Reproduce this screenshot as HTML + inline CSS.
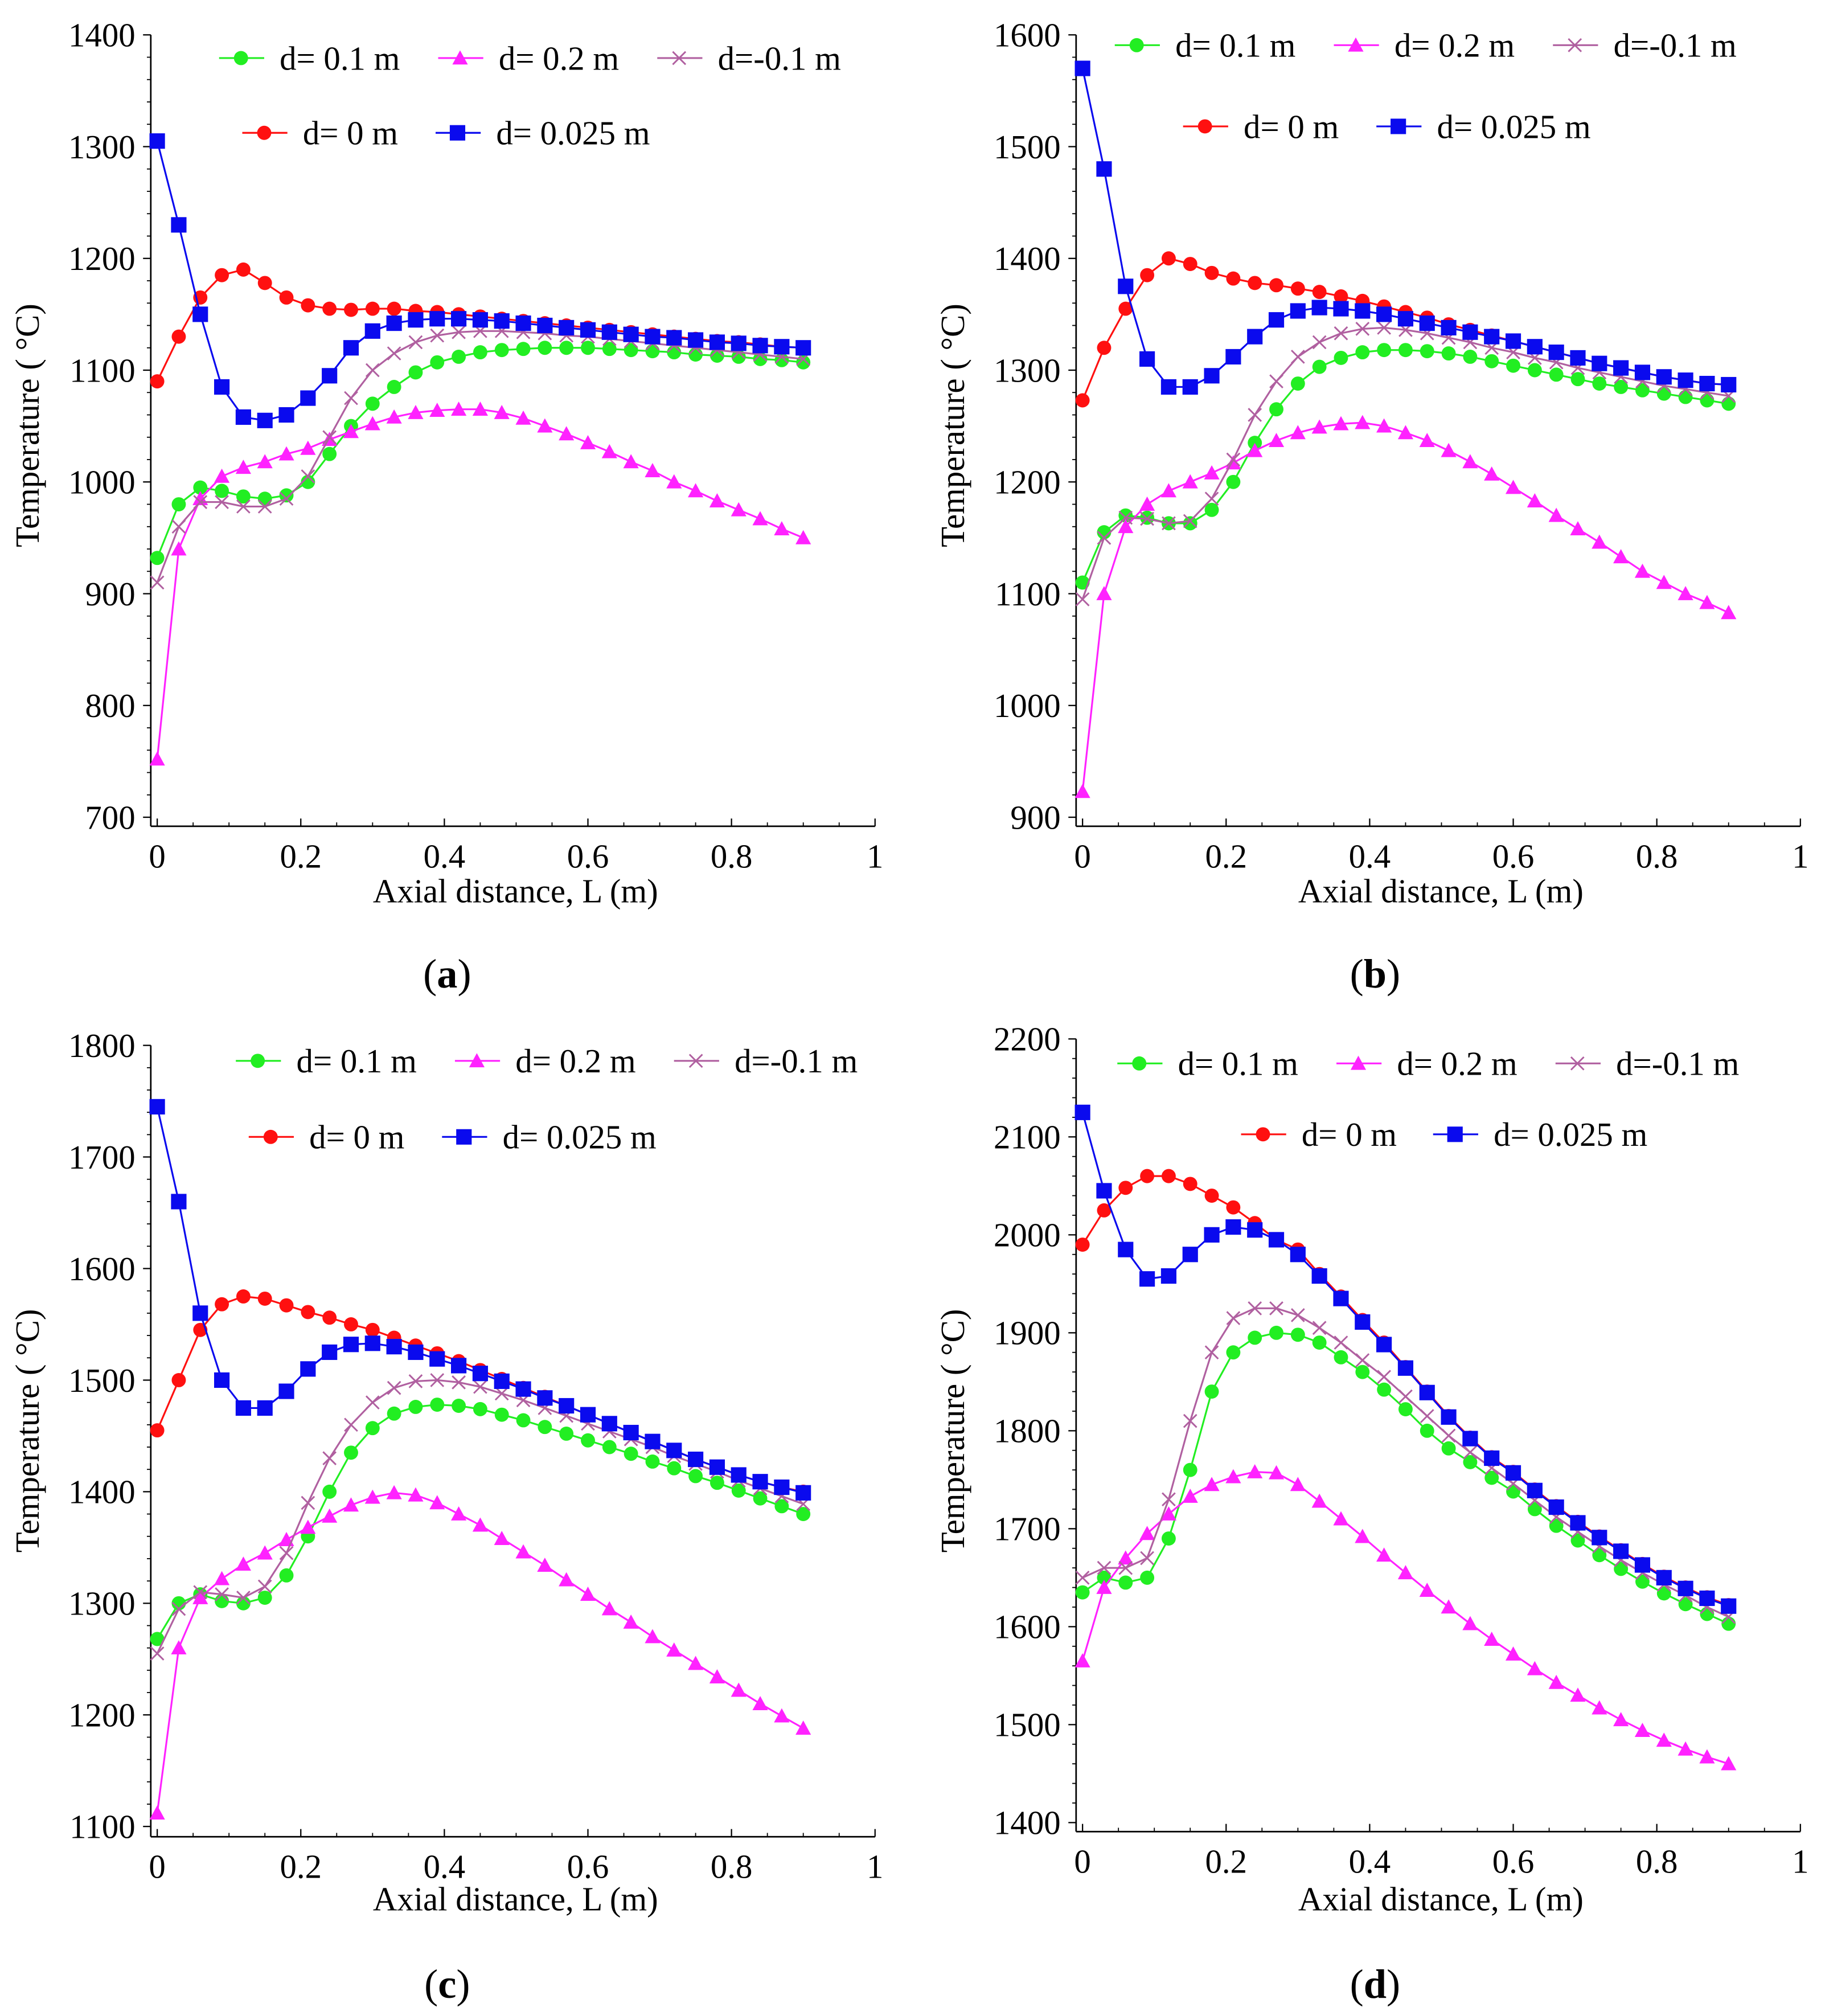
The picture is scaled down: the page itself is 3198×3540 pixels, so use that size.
<!DOCTYPE html>
<html><head><meta charset="utf-8"><style>
html,body{margin:0;padding:0;background:#fff;}
svg{display:block;font-family:"Liberation Serif","DejaVu Serif",serif;}
svg text{font-family:"Liberation Serif","DejaVu Serif",serif;fill:#000;}
</style></head><body>
<svg id="fig" width="3198" height="3540" viewBox="0 0 1413 1564" font-family="Liberation Serif, serif" xmlns="http://www.w3.org/2000/svg"></svg>
<script>
const xs = [0,0.03,0.06,0.09,0.12,0.15,0.18,0.21,0.24,0.27,0.30,0.33,0.36,0.39,0.42,0.45,0.48,0.51,0.54,0.57,0.60,0.63,0.66,0.69,0.72,0.75,0.78,0.81,0.84,0.87,0.90];
const seriesNames = ["d= 0.1 m","d= 0.2 m","d=-0.1 m","d= 0 m","d= 0.025 m"];
const xTicks = ["0","0.2","0.4","0.6","0.8","1"];
// panel a
const aGreen = [932,980,995,992,987,985,988,1000,1025,1050,1070,1085,1098,1107,1112,1116,1118,1119,1120,1120,1120,1119,1118,1117,1116,1114,1113,1112,1110,1109,1107];
const aMag = [752,940,985,1005,1013,1018,1025,1030,1038,1045,1052,1058,1062,1064,1065,1065,1062,1057,1050,1043,1035,1027,1018,1010,1000,992,983,975,967,958,950];
const aPur = [910,960,982,982,978,978,985,1005,1040,1075,1100,1115,1125,1131,1134,1135,1135,1134,1133,1131,1130,1128,1126,1124,1122,1120,1118,1116,1114,1112,1110];
const aRed = [1090,1130,1165,1185,1190,1178,1165,1158,1155,1154,1155,1155,1153,1152,1150,1148,1146,1144,1142,1140,1138,1136,1134,1132,1130,1128,1126,1125,1123,1121,1120];
const aBlue = [1305,1230,1150,1085,1058,1055,1060,1075,1095,1120,1135,1142,1145,1146,1146,1145,1144,1142,1140,1138,1136,1134,1132,1130,1129,1127,1125,1124,1122,1121,1120];
const aYTicks = [700,800,900,1000,1100,1200,1300,1400];
// panel b
const bGreen = [1110,1155,1170,1168,1163,1163,1175,1200,1235,1265,1288,1303,1311,1316,1318,1318,1317,1315,1312,1308,1304,1300,1296,1292,1288,1285,1282,1279,1276,1273,1270];
const bMag = [923,1100,1160,1180,1192,1200,1208,1217,1228,1237,1244,1249,1252,1253,1250,1244,1237,1228,1218,1207,1195,1183,1170,1158,1146,1133,1120,1110,1100,1092,1083];
const bPur = [1095,1150,1168,1167,1163,1165,1185,1220,1260,1290,1312,1325,1333,1337,1338,1336,1333,1329,1325,1320,1316,1311,1307,1302,1298,1294,1290,1286,1283,1280,1277];
const bRed = [1273,1320,1355,1385,1400,1395,1387,1382,1378,1376,1373,1370,1366,1362,1357,1352,1347,1341,1336,1331,1326,1321,1316,1311,1306,1302,1298,1294,1291,1288,1287];
const bBlue = [1570,1480,1375,1310,1285,1285,1295,1312,1330,1345,1353,1356,1355,1353,1350,1346,1342,1338,1334,1330,1326,1321,1316,1311,1306,1302,1298,1294,1291,1288,1287];
const bYTicks = [900,1000,1100,1200,1300,1400,1500,1600];
// panel c
const cGreen = [1268,1300,1308,1302,1300,1305,1325,1360,1400,1435,1457,1470,1476,1478,1477,1474,1469,1464,1458,1452,1446,1440,1434,1427,1421,1414,1408,1401,1394,1387,1380];
const cMag = [1112,1260,1305,1322,1335,1345,1357,1368,1378,1388,1395,1399,1397,1390,1380,1370,1358,1346,1334,1321,1308,1295,1283,1270,1258,1246,1234,1222,1210,1199,1188];
const cPur = [1255,1295,1310,1308,1305,1315,1345,1390,1430,1460,1480,1493,1499,1500,1498,1494,1488,1482,1475,1468,1461,1454,1447,1440,1432,1425,1418,1410,1403,1396,1389];
const cRed = [1455,1500,1545,1568,1575,1573,1567,1561,1556,1550,1545,1538,1531,1524,1517,1509,1501,1493,1485,1477,1469,1461,1453,1445,1437,1429,1422,1415,1409,1404,1400];
const cBlue = [1745,1660,1560,1500,1475,1475,1490,1510,1525,1532,1533,1530,1525,1519,1513,1506,1499,1492,1484,1477,1469,1461,1453,1445,1437,1429,1422,1415,1409,1404,1399];
const cYTicks = [1100,1200,1300,1400,1500,1600,1700,1800];
// panel d
const dGreen = [1635,1650,1645,1650,1690,1760,1840,1880,1895,1900,1898,1890,1875,1860,1842,1822,1800,1782,1768,1752,1738,1720,1703,1688,1673,1659,1646,1634,1623,1613,1603];
const dMag = [1565,1640,1670,1695,1715,1733,1745,1753,1758,1757,1745,1728,1710,1692,1673,1655,1637,1620,1603,1587,1572,1557,1543,1530,1517,1505,1494,1484,1475,1467,1460];
const dPur = [1650,1660,1660,1670,1730,1810,1880,1915,1925,1925,1918,1905,1890,1872,1855,1835,1815,1795,1778,1762,1746,1729,1712,1697,1682,1668,1655,1643,1632,1620,1610];
const dRed = [1990,2025,2048,2060,2060,2052,2040,2028,2012,1995,1985,1960,1937,1913,1890,1865,1840,1815,1793,1773,1758,1740,1723,1707,1692,1678,1664,1651,1640,1630,1622];
const dBlue = [2125,2045,1985,1955,1958,1980,2000,2008,2005,1995,1980,1958,1935,1911,1888,1864,1839,1814,1792,1772,1757,1739,1722,1706,1691,1677,1663,1650,1639,1629,1621];
const dYTicks = [1400,1500,1600,1700,1800,1900,2000,2100,2200];

const NS="http://www.w3.org/2000/svg";
const svg=document.getElementById('fig');
function mk(tag,attrs,parent){const e=document.createElementNS(NS,tag);for(const k in attrs)e.setAttribute(k,attrs[k]);(parent||svg).appendChild(e);return e;}
const FF="Liberation Serif, DejaVu Serif, serif";

const styles=[
 {color:"#22ee22",marker:"diamond"},
 {color:"#ff22ff",marker:"triangle"},
 {color:"#b060a0",marker:"cross"},
 {color:"#ff1010",marker:"circle"},
 {color:"#0a0aee",marker:"square"}
];
function marker(g,type,x,y,color){
  let m;
  if(type==="circle") m=mk('circle',{cx:x,cy:y,r:5.5,fill:color},g);
  else if(type==="square") m=mk('rect',{x:x-6,y:y-6,width:12,height:12,fill:color},g);
  else if(type==="diamond") m=mk('circle',{cx:x,cy:y,r:5.5,fill:color},g);
  else if(type==="triangle") m=mk('polygon',{points:`${x},${y-6} ${x-6},${y+5} ${x+6},${y+5}`,fill:color},g);
  else m=mk('path',{d:`M${x-5},${y-5}L${x+5},${y+5}M${x-5},${y+5}L${x+5},${y-5}`,stroke:color,'stroke-width':1.3,fill:'none'},g);
  return m;
}

const panels=[
 {id:"a",ax:117,x0:122,x1:679,yTop:27,yBot:634,axisY:641,ticks:aYTicks,data:[aGreen,aMag,aPur,aRed,aBlue],
  leg1:[170,340,510],leg1y:45,leg2:[188,338],leg2y:103,cap:[347,766],titleX:400,titleY:700,ytx:30,yty:330},
 {id:"b",ax:835,x0:840,x1:1397,yTop:27,yBot:634,axisY:641,ticks:bYTicks,data:[bGreen,bMag,bPur,bRed,bBlue],
  leg1:[865,1035,1205],leg1y:35,leg2:[918,1068],leg2y:98,cap:[1067,766],titleX:1118,titleY:700,ytx:748,yty:330},
 {id:"c",ax:117,x0:122,x1:679,yTop:811,yBot:1417,axisY:1425,ticks:cYTicks,data:[cGreen,cMag,cPur,cRed,cBlue],
  leg1:[183,353,523],leg1y:823,leg2:[193,343],leg2y:882,cap:[347,1550],titleX:400,titleY:1482,ytx:30,yty:1110},
 {id:"d",ax:835,x0:840,x1:1397,yTop:806,yBot:1414,axisY:1421,ticks:dYTicks,data:[dGreen,dMag,dPur,dRed,dBlue],
  leg1:[867,1037,1207],leg1y:825,leg2:[963,1112],leg2y:880,cap:[1067,1550],titleX:1118,titleY:1482,ytx:748,yty:1110}
];

panels.forEach(p=>{
  const g=mk('g',{'font-family':FF});
  
  
  const ymin=p.ticks[0], ymax=p.ticks[p.ticks.length-1];
  const sx=v=>p.x0+(p.x1-p.x0)*v;
  const sy=v=>p.yBot-(p.yBot-p.yTop)*(v-ymin)/(ymax-ymin);
  const ya=mk('line',{x1:p.ax,y1:p.yTop,x2:p.ax,y2:p.axisY,stroke:'#000','stroke-width':1.2},g);
  
  
  const xa=mk('line',{x1:p.ax,y1:p.axisY,x2:p.x1,y2:p.axisY,stroke:'#000','stroke-width':1.2},g);
  
  
  p.ticks.forEach((t,i)=>{
    const y=sy(t);
    mk('line',{x1:p.ax-6,y1:y,x2:p.ax,y2:y,stroke:'#000','stroke-width':1},g);
    if(i<p.ticks.length-1){
      for(let k=1;k<5;k++){const yy=sy(t+(p.ticks[1]-p.ticks[0])*k/5);mk('line',{x1:p.ax-3,y1:yy,x2:p.ax,y2:yy,stroke:'#000','stroke-width':0.8},g);}
    }
    const tx=mk('text',{x:p.ax-12,y:y+9,'font-size':26,'text-anchor':'end','font-family':FF},g);
    tx.textContent=t;
    
    
  });
  xTicks.forEach((t,i)=>{
    const v=parseFloat(t);const x=sx(v);
    mk('line',{x1:x,y1:p.axisY,x2:x,y2:p.axisY-6,stroke:'#000','stroke-width':1},g);
    if(i<xTicks.length-1){for(let k=1;k<4;k++){const xx=sx(v+0.2*k/4);mk('line',{x1:xx,y1:p.axisY,x2:xx,y2:p.axisY-3,stroke:'#000','stroke-width':0.8},g);}}
    const tx=mk('text',{x:x,y:p.axisY+32,'font-size':26,'text-anchor':'middle','font-family':FF},g);
    tx.textContent=t;
    
    
  });
  const xt=mk('text',{x:p.titleX,y:p.titleY,'font-size':26,'text-anchor':'middle','font-family':FF},g);
  xt.textContent="Axial distance, L (m)";
  
  
  const yt=mk('text',{x:p.ytx,y:p.yty,'font-size':26,'text-anchor':'middle','font-family':FF,transform:`rotate(-90 ${p.ytx} ${p.yty})`},g);
  yt.textContent="Temperature ( °C)";
  
  
  const cap=mk('text',{x:p.cap[0],y:p.cap[1],'font-size':32,'text-anchor':'middle','font-family':FF},g);
  cap.innerHTML='(<tspan font-weight="bold">'+p.id+'</tspan>)';
  
  
  p.data.forEach((vals,si)=>{
    const st=styles[si];
    const sg=mk('g',{},g);
    
    
    const pts=vals.map((v,i)=>sx(xs[i])+','+sy(v)).join(' ');
    mk('polyline',{points:pts,fill:'none',stroke:st.color,'stroke-width':1.4},sg);
    vals.forEach((v,i)=>{
      const m=marker(sg,st.marker,sx(xs[i]),sy(v),st.color);
      
      
    });
  });
  const lg=mk('g',{},g);
  
  
  const entries=[[0,p.leg1[0],p.leg1y],[1,p.leg1[1],p.leg1y],[2,p.leg1[2],p.leg1y],[3,p.leg2[0],p.leg2y],[4,p.leg2[1],p.leg2y]];
  entries.forEach(([si,x,y])=>{
    const st=styles[si];
    const eg=mk('g',{},lg);
    
    
    mk('line',{x1:x,y1:y,x2:x+35,y2:y,stroke:st.color,'stroke-width':1.4},eg);
    marker(eg,st.marker,x+17,y,st.color);
    const t=mk('text',{x:x+47,y:y+9,'font-size':26,'font-family':FF},eg);
    t.textContent=seriesNames[si];
  });
});
</script>
</body></html>
